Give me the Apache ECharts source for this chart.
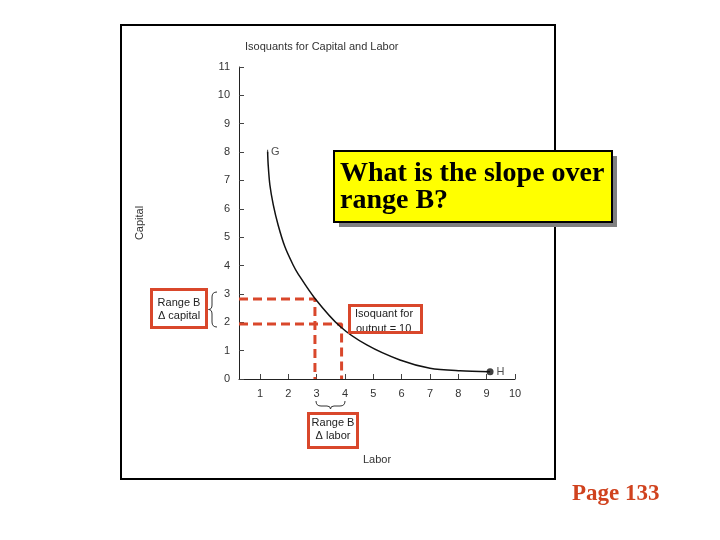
<!DOCTYPE html>
<html><head><meta charset="utf-8">
<script src="https://cdn.jsdelivr.net/npm/echarts@6/dist/echarts.min.js"></script>
<style>html,body{margin:0;padding:0;background:#fff}#c{width:720px;height:540px}</style>
</head><body><div id="c"></div>
<script>
// ---- data ----
const labor   = [1.27, 1.29, 1.35, 1.47, 1.64, 1.88, 2.17, 2.35, 2.94, 3.82, 4.77, 5.94, 7.00, 8.06, 9.12];
const capital = [8.01, 7.55, 6.84, 6.14, 5.43, 4.66, 4.02, 3.70, 2.84, 1.86, 1.20, 0.67, 0.38, 0.29, 0.26];
const pointG = [1.27, 8.01];
const pointH = [9.12, 0.26];
const rangeBLabor   = [2.94, 3.88];
const rangeBCapital = [2.82, 1.94];
const xTickValues = [1, 2, 3, 4, 5, 6, 7, 8, 9, 10];
const xDomain = [0.26, 10];
const yDomain = [0, 11];

const chart = echarts.init(document.getElementById('c'), null, {renderer: 'canvas'});
const ORANGE = '#d9472b';
const FONT = 'Liberation Sans, Arial, sans-serif';
const SERIF = 'Liberation Serif, Times New Roman, serif';

const dashSeries = rangeBLabor.map((lx, i) => ({
  type: 'line',
  data: [[xDomain[0], rangeBCapital[i]], [lx, rangeBCapital[i]], [lx, 0]],
  symbol: 'none',
  lineStyle: {color: ORANGE, width: 3, type: [9, 5]},
  z: 3, silent: true, animation: false
}));

// brace drawing helper: segments are ['L', x1,y1,x2,y2] or ['Q', x1,y1,cx,cy,x2,y2]
function brace(segs) {
  const st = {stroke: '#333', lineWidth: 1, fill: 'none'};
  return segs.map(s => s[0] === 'L'
    ? {type: 'line', z: 10, shape: {x1: s[1], y1: s[2], x2: s[3], y2: s[4]}, style: st}
    : {type: 'bezierCurve', z: 10, shape: {x1: s[1], y1: s[2], cpx1: s[3], cpy1: s[4], x2: s[5], y2: s[6]}, style: st});
}
const leftBrace = brace([
  ['Q', 217, 292, 212, 292, 212, 297],
  ['L', 212, 297, 212, 305],
  ['Q', 212, 305, 212, 309.5, 208.5, 309.5],
  ['Q', 208.5, 309.5, 212, 309.5, 212, 314],
  ['L', 212, 314, 212, 322],
  ['Q', 212, 322, 212, 327, 217, 327]
]);
const lowerBrace = brace([
  ['Q', 316, 401, 316, 406, 321, 406],
  ['L', 321, 406, 327, 406],
  ['Q', 327, 406, 330.5, 406, 330.5, 409],
  ['Q', 330.5, 409, 330.5, 406, 334, 406],
  ['L', 334, 406, 340, 406],
  ['Q', 340, 406, 345, 406, 345, 401]
]);

chart.setOption({
  backgroundColor: '#fff',
  animation: false,
  title: {
    text: 'Isoquants for Capital and Labor',
    left: 245, top: 41, padding: 0,
    textStyle: {fontFamily: FONT, fontSize: 11, fontWeight: 'normal', color: '#333'}
  },
  grid: {left: 239, top: 67, width: 276, height: 312},
  xAxis: {
    type: 'value', min: xDomain[0], max: xDomain[1],
    name: 'Labor', nameLocation: 'middle', nameGap: 75,
    nameTextStyle: {fontFamily: FONT, fontSize: 11, color: '#333'},
    axisLine: {show: true, lineStyle: {color: '#222', width: 1}},
    axisTick: {show: true, inside: true, length: 5, customValues: xTickValues, lineStyle: {color: '#444'}},
    axisLabel: {customValues: xTickValues, margin: 9, fontFamily: FONT, fontSize: 11, color: '#333'},
    splitLine: {show: false}
  },
  yAxis: {
    type: 'value', min: yDomain[0], max: yDomain[1], interval: 1,
    name: 'Capital', nameLocation: 'middle', nameGap: 94, nameRotate: 90,
    nameTextStyle: {fontFamily: FONT, fontSize: 11, color: '#333'},
    axisLine: {show: true, lineStyle: {color: '#222', width: 1}},
    axisTick: {show: true, inside: true, length: 5, lineStyle: {color: '#444'}},
    axisLabel: {margin: 9, fontFamily: FONT, fontSize: 11, color: '#333'},
    splitLine: {show: false}
  },
  series: [
    {
      type: 'line',
      data: labor.map((x, i) => [x, capital[i]]),
      smooth: 0.3,
      symbol: 'none',
      lineStyle: {color: '#111', width: 1.5},
      z: 4
    },
    ...dashSeries,
    {
      type: 'scatter', data: [pointG], symbol: 'rect', symbolSize: [1, 4],
      itemStyle: {color: '#111'},
      label: {show: true, position: 'right', distance: 3, formatter: 'G',
              fontFamily: FONT, fontSize: 11, color: '#222'}
    },
    {
      type: 'scatter', data: [pointH], symbol: 'circle', symbolSize: 7,
      itemStyle: {color: '#111'},
      label: {show: true, position: 'right', distance: 3, formatter: 'H',
              fontFamily: FONT, fontSize: 11, color: '#222'},
      z: 5
    }
  ],
  graphic: [
    // outer frame
    {type: 'rect', shape: {x: 121, y: 25, width: 434, height: 454},
     style: {fill: 'none', stroke: '#000', lineWidth: 2}, z: 1, silent: true},
    // Range B / Δ capital box
    {type: 'rect', shape: {x: 151.5, y: 289.5, width: 55, height: 38},
     style: {fill: '#fff', stroke: ORANGE, lineWidth: 3}, z: 10},
    {type: 'text', x: 179, y: 302.5, z: 11,
     style: {text: 'Range B', align: 'center', verticalAlign: 'middle', font: '11px ' + FONT, fill: '#222'}},
    {type: 'text', x: 179, y: 316, z: 11,
     style: {text: '\u0394 capital', align: 'center', verticalAlign: 'middle', font: '11px ' + FONT, fill: '#222'}},
    ...leftBrace,
    // Isoquant box
    {type: 'rect', shape: {x: 349.5, y: 305.5, width: 72, height: 27},
     style: {fill: '#fff', stroke: ORANGE, lineWidth: 3}, z: 10},
    {type: 'text', x: 355, y: 314, z: 11,
     style: {text: 'Isoquant for', align: 'left', verticalAlign: 'middle', font: '11px ' + FONT, fill: '#222'}},
    {type: 'text', x: 356, y: 328.5, z: 11,
     style: {text: 'output = 10', align: 'left', verticalAlign: 'middle', font: '11px ' + FONT, fill: '#222'}},
    {type: 'rect', shape: {x: 349.5, y: 305.5, width: 72, height: 27},
     style: {fill: 'none', stroke: ORANGE, lineWidth: 3}, z: 12},
    ...lowerBrace,
    // Range B / Δ labor box
    {type: 'rect', shape: {x: 308.5, y: 413.5, width: 49, height: 34},
     style: {fill: '#fff', stroke: ORANGE, lineWidth: 3}, z: 10},
    {type: 'text', x: 333, y: 423, z: 11,
     style: {text: 'Range B', align: 'center', verticalAlign: 'middle', font: '11px ' + FONT, fill: '#222'}},
    {type: 'text', x: 333, y: 436, z: 11,
     style: {text: '\u0394 labor', align: 'center', verticalAlign: 'middle', font: '11px ' + FONT, fill: '#222'}},
    // yellow question box with shadow
    {type: 'rect', shape: {x: 339, y: 156, width: 278, height: 71},
     style: {fill: '#808080'}, z: 20},
    {type: 'rect', shape: {x: 334, y: 151, width: 278, height: 71},
     style: {fill: '#ffff00', stroke: '#000', lineWidth: 2}, z: 21},
    {type: 'text', x: 340, y: 174, z: 22,
     style: {text: 'What is the slope over', align: 'left', verticalAlign: 'middle', font: 'bold 28px ' + SERIF, fill: '#000'}},
    {type: 'text', x: 340, y: 201, z: 22,
     style: {text: 'range B?', align: 'left', verticalAlign: 'middle', font: 'bold 28px ' + SERIF, fill: '#000'}},
    // page number
    {type: 'text', x: 572, y: 494, z: 22,
     style: {text: 'Page 133', align: 'left', verticalAlign: 'middle', font: 'bold 23px ' + SERIF, fill: '#d0421e'}}
  ]
});
</script></body></html>
